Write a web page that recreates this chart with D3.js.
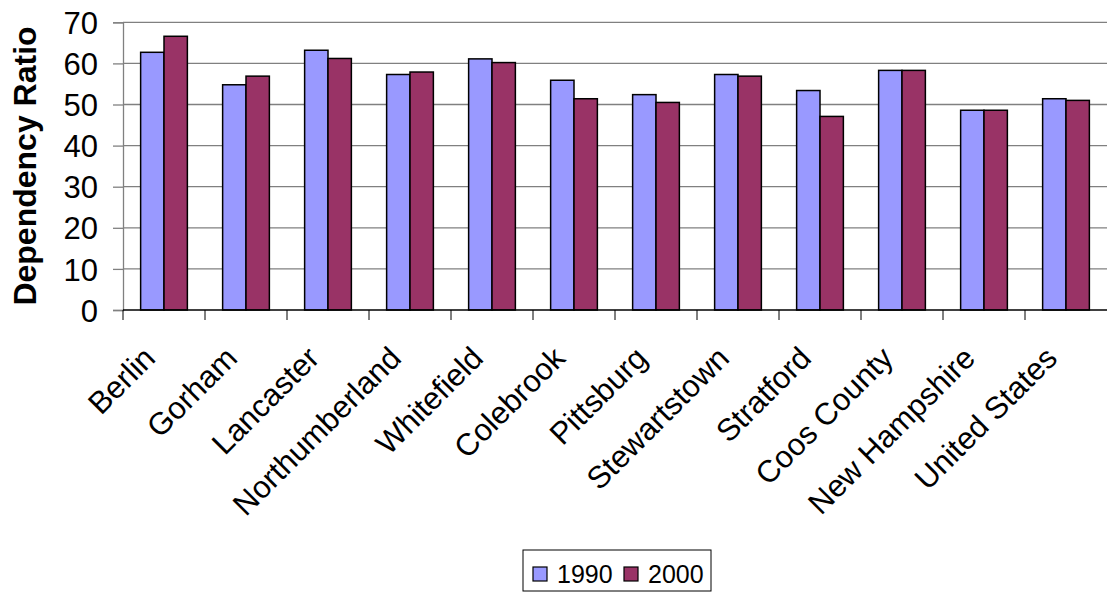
<!DOCTYPE html>
<html>
<head>
<meta charset="utf-8">
<script src="https://cdn.jsdelivr.net/npm/d3@7"></script>
<style>
  html, body { margin: 0; padding: 0; background: #fff; }
  svg { display: block; font-family: "Liberation Sans", Arial, sans-serif; }
</style>
</head>
<body>
<svg id="chart" width="1109" height="592"></svg>
<script>
// Dependency ratio by place, 1990 vs 2000
const categories = ["Berlin", "Gorham", "Lancaster", "Northumberland", "Whitefield", "Colebrook",
  "Pittsburg", "Stewartstown", "Stratford", "Coos County", "New Hampshire", "United States"];
const values1990 = [62.7, 54.8, 63.2, 57.3, 61.1, 55.9, 52.4, 57.3, 53.4, 58.3, 48.6, 51.4];
const values2000 = [66.6, 56.9, 61.2, 57.9, 60.2, 51.4, 50.5, 56.9, 47.1, 58.3, 48.6, 51.0];
const seriesNames = ["1990", "2000"];
const yTicks = [0, 10, 20, 30, 40, 50, 60, 70];

const colors = { "1990": "#9999FF", "2000": "#993366" };

const svg = d3.select("#chart");
const plotLeft = 123, plotRight = 1107, plotTop = 22.3, plotBottom = 310;

const x = d3.scaleBand().domain(categories).range([plotLeft, plotRight]).paddingInner(0.43).paddingOuter(0.215);
const xStep = d3.scaleBand().domain(categories).range([plotLeft, plotRight]).padding(0);
const x1 = d3.scaleBand().domain(seriesNames).range([0, x.bandwidth()]).padding(0);
const y = d3.scaleLinear().domain([0, 70]).range([plotBottom, plotTop]);

// Gridlines
svg.append("g").selectAll("line").data(yTicks.filter(d => d > 0)).join("line")
  .attr("x1", plotLeft).attr("x2", plotRight)
  .attr("y1", d => y(d)).attr("y2", d => y(d))
  .attr("stroke", "#808080").attr("stroke-width", 1.3);

// Y axis
const yAxis = svg.append("g").attr("transform", `translate(${plotLeft},0)`)
  .call(d3.axisLeft(y).tickValues(yTicks).tickSize(10).tickPadding(15));
yAxis.select(".domain").attr("stroke", "#808080").attr("stroke-width", 1.3);
yAxis.selectAll(".tick line").attr("stroke", "#808080").attr("stroke-width", 1.3);
yAxis.selectAll(".tick text").attr("font-size", 31).attr("fill", "#000")
  .attr("font-family", "Liberation Sans, Arial, sans-serif").attr("dy", "0.36em");

// Bars
const data = categories.map((c, i) => ({ cat: c, vals: [
  { key: "1990", v: values1990[i] }, { key: "2000", v: values2000[i] }] }));
const groups = svg.append("g").selectAll("g").data(data).join("g")
  .attr("transform", d => `translate(${x(d.cat)},0)`);
groups.selectAll("rect").data(d => d.vals).join("rect")
  .attr("x", d => x1(d.key)).attr("width", x1.bandwidth())
  .attr("y", d => y(d.v)).attr("height", d => plotBottom - y(d.v))
  .attr("fill", d => colors[d.key]).attr("stroke", "#000").attr("stroke-width", 1.5);

// X axis baseline and category separators
svg.append("line").attr("x1", plotLeft).attr("x2", plotRight)
  .attr("y1", plotBottom).attr("y2", plotBottom).attr("stroke", "#000").attr("stroke-width", 1.5);
svg.append("g").selectAll("line").data(categories.map(c => xStep(c))).join("line")
  .attr("x1", d => d).attr("x2", d => d).attr("y1", plotBottom).attr("y2", plotBottom + 10)
  .attr("stroke", "#000").attr("stroke-width", 1);

// Category labels, rotated
svg.append("g").selectAll("text").data(categories).join("text")
  .attr("transform", d => `translate(${xStep(d) + xStep.bandwidth() / 2 - 7},360) rotate(-45)`)
  .attr("text-anchor", "end").attr("font-size", 31).attr("fill", "#000")
  .text(d => d);

// Y axis title
svg.append("text")
  .attr("transform", `translate(36,166) rotate(-90)`)
  .attr("text-anchor", "middle").attr("font-size", 32).attr("font-weight", "bold")
  .text("Dependency Ratio");

// Legend
const legend = svg.append("g").attr("transform", "translate(523,550)");
legend.append("rect").attr("x", 0).attr("y", 0).attr("width", 188).attr("height", 41)
  .attr("fill", "#fff").attr("stroke", "#000").attr("stroke-width", 1);
const legX = [10, 101];
seriesNames.forEach((s, i) => {
  legend.append("rect").attr("x", legX[i]).attr("y", 17).attr("width", 14).attr("height", 14)
    .attr("fill", colors[s]).attr("stroke", "#000").attr("stroke-width", 1.2);
  legend.append("text").attr("x", legX[i] + 24).attr("y", 33).attr("font-size", 25).text(s);
});
</script>
</body>
</html>
